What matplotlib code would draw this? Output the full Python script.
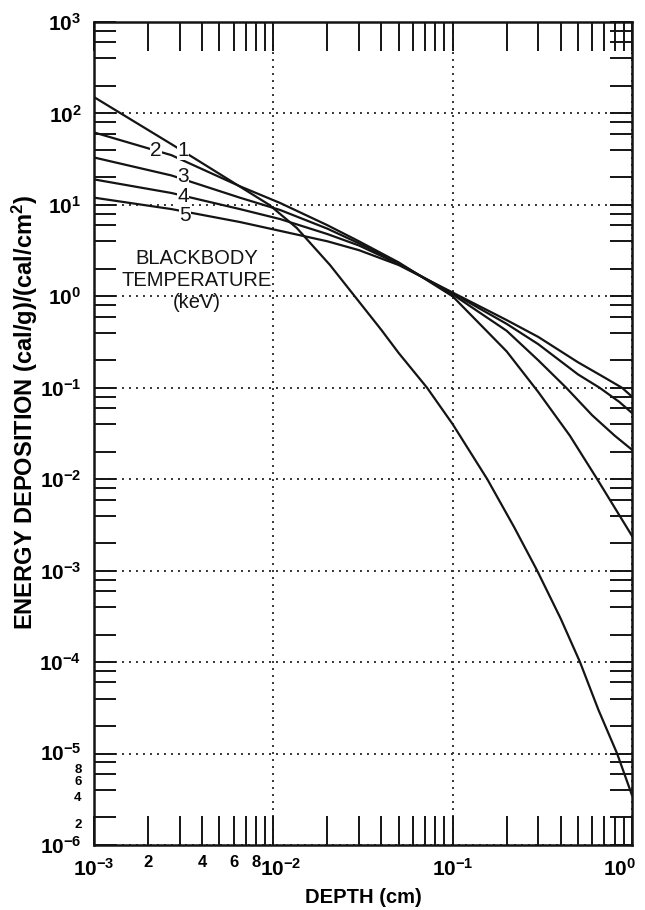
import matplotlib
matplotlib.use('Agg')
import matplotlib.pyplot as plt
import matplotlib.transforms as mtransforms
from matplotlib.ticker import FixedLocator, FixedFormatter

plt.rcParams['font.family'] = ['Liberation Sans', 'DejaVu Sans']
plt.rcParams['mathtext.fontset'] = 'custom'
plt.rcParams['mathtext.rm'] = 'Liberation Sans:bold'
plt.rcParams['mathtext.bf'] = 'Liberation Sans:bold'
plt.rcParams['mathtext.it'] = 'Liberation Sans:bold'
plt.rcParams['mathtext.default'] = 'bf'

# ---- data ----
depth_1 = [0.001, 0.00276, 0.00357, 0.0063, 0.0095, 0.0135, 0.0207, 0.0279, 0.04, 0.05,
           0.072, 0.1, 0.156, 0.22, 0.296, 0.4, 0.513, 0.65, 0.826, 1.0]
dep_1 = [151, 45, 33, 16.5, 10, 5.6, 2.2, 1.05, 0.43, 0.24,
         0.1, 0.04, 0.01, 0.003, 1e-3, 3e-4, 1e-4, 3e-5, 1e-5, 3.5e-6]

depth_2 = [0.001, 0.0027, 0.0065, 0.0109, 0.02, 0.03, 0.05, 0.1, 0.2, 0.3, 0.45, 0.64, 0.755, 1.0]
dep_2 = [62, 35, 16, 10.5, 6.0, 4.0, 2.35, 1.0, 0.25, 0.09, 0.03, 0.01, 0.0059, 0.0024]

depth_3 = [0.001, 0.0027, 0.0065, 0.0109, 0.02, 0.03, 0.05, 0.1, 0.2, 0.3, 0.43, 0.6, 0.8, 1.0]
dep_3 = [33, 21, 12, 8.8, 5.5, 3.8, 2.3, 1.05, 0.42, 0.2, 0.1, 0.05, 0.03, 0.021]

depth_4 = [0.001, 0.0027, 0.0065, 0.0109, 0.02, 0.03, 0.05, 0.1, 0.2, 0.3, 0.5, 0.66, 0.85, 1.0]
dep_4 = [19, 13.5, 9.0, 7.0, 4.8, 3.6, 2.25, 1.08, 0.5, 0.3, 0.14, 0.1, 0.07, 0.053]

depth_5 = [0.001, 0.0027, 0.0065, 0.0109, 0.02, 0.03, 0.05, 0.1, 0.2, 0.3, 0.5, 0.7, 0.88, 1.0]
dep_5 = [12, 9.0, 6.5, 5.2, 4.0, 3.2, 2.2, 1.1, 0.55, 0.36, 0.19, 0.13, 0.1, 0.08]

curve_labels = ['1', '2', '3', '4', '5']

x_major = [1e-3, 1e-2, 1e-1, 1e0]
x_major_labels = [r'$10^{-3}$', r'$10^{-2}$', r'$10^{-1}$', r'$10^{0}$']
y_major = [1e-6, 1e-5, 1e-4, 1e-3, 1e-2, 1e-1, 1e0, 1e1, 1e2, 1e3]
y_major_labels = [r'$10^{-6}$', r'$10^{-5}$', r'$10^{-4}$', r'$10^{-3}$', r'$10^{-2}$',
                  r'$10^{-1}$', r'$10^{0}$', r'$10^{1}$', r'$10^{2}$', r'$10^{3}$']
x_minor_labels = ['2', '', '4', '', '6', '', '8', '']
y_minor_labels = ['2', '4', '6', '8']

fig = plt.figure(figsize=(6.45, 9.10), dpi=100)
ax = fig.add_axes([94/645, 1-845/910, 538/645, 823/910])
ax.set_xscale('log')
ax.set_yscale('log')
ax.set_xlim(1e-3, 1e0)
ax.set_ylim(1e-6, 1e3)

for d, v in [(depth_1, dep_1), (depth_2, dep_2), (depth_3, dep_3), (depth_4, dep_4), (depth_5, dep_5)]:
    ax.plot(d, v, color='#141414', lw=1.6, zorder=3)

# ticks
x_minor = [m * 10.0**e for e in (-3, -2, -1) for m in range(2, 10)]
y_minor = [m * 10.0**e for e in range(-6, 3) for m in (2, 4, 6, 8)]
ax.xaxis.set_major_locator(FixedLocator(x_major))
ax.xaxis.set_major_formatter(FixedFormatter(x_major_labels))
ax.xaxis.set_minor_locator(FixedLocator(x_minor))
ax.xaxis.set_minor_formatter(FixedFormatter(x_minor_labels + [''] * 16))
ax.yaxis.set_major_locator(FixedLocator(y_major))
ax.yaxis.set_major_formatter(FixedFormatter(y_major_labels))
ax.yaxis.set_minor_locator(FixedLocator(y_minor))
ax.yaxis.set_minor_formatter(FixedFormatter(y_minor_labels + [''] * 32))

ax.tick_params(axis='x', which='both', direction='in', length=21, width=1.4,
               top=True, bottom=True, color='#141414')
ax.tick_params(axis='y', which='both', direction='in', length=16, width=1.4,
               left=True, right=True, color='#141414')
ax.tick_params(axis='x', which='major', labelsize=15, pad=9)
ax.tick_params(axis='x', which='minor', labelsize=12, pad=7)
ax.tick_params(axis='y', which='major', labelsize=15, pad=9)
ax.tick_params(axis='y', which='minor', labelsize=9.5, pad=9)
for lab in ax.get_xticklabels(minor=True) + ax.get_yticklabels(minor=True):
    lab.set_fontweight('bold')

fig.canvas.draw()
def shift(lab, dx_pt, dy_pt):
    lab.set_transform(lab.get_transform() +
                      mtransforms.ScaledTranslation(dx_pt/72, dy_pt/72, fig.dpi_scale_trans))

xt = ax.get_xticklabels()
shift(xt[1], 5, 0)
xt[3].set_horizontalalignment('right')
shift(xt[3], 3, 0)
yt = ax.get_yticklabels()
shift(yt[1], 0, 1.5)
for lab in ax.get_yticklabels(minor=True)[:4]:
    shift(lab, 0, -4.5)

for s in ax.spines.values():
    s.set_linewidth(1.8)
    s.set_color('#141414')

ax.grid(which='major', color='#333333', linestyle=(0, (1, 2.6)), linewidth=1.4)

# curve labels
label_pos = {'1': (0.00313, 39.8), '2': (0.00222, 39.8), '3': (0.00313, 20.2),
             '4': (0.00313, 12.2), '5': (0.00322, 7.7)}
for lab in curve_labels:
    x, y = label_pos[lab]
    ax.text(x, y, lab, fontsize=15, ha='center', va='center', zorder=5,
            color='#141414',
            bbox=dict(facecolor='white', edgecolor='none', pad=0.3))

ax.text(0.1915, 0.6865, 'BLACKBODY\nTEMPERATURE\n(keV)', transform=ax.transAxes,
        fontsize=14.5, ha='center', va='center', linespacing=1.2, color='#141414',
        zorder=5)

ax.set_xlabel('DEPTH (cm)', fontsize=14.5, fontweight='bold', labelpad=6)
ax.set_ylabel(r'ENERGY DEPOSITION (cal/g)/(cal/cm$^{2}$)', fontsize=17,
              fontweight='bold')
ax.yaxis.set_label_coords(-0.1, 0.526)

fig.savefig('out.png', dpi=100)
